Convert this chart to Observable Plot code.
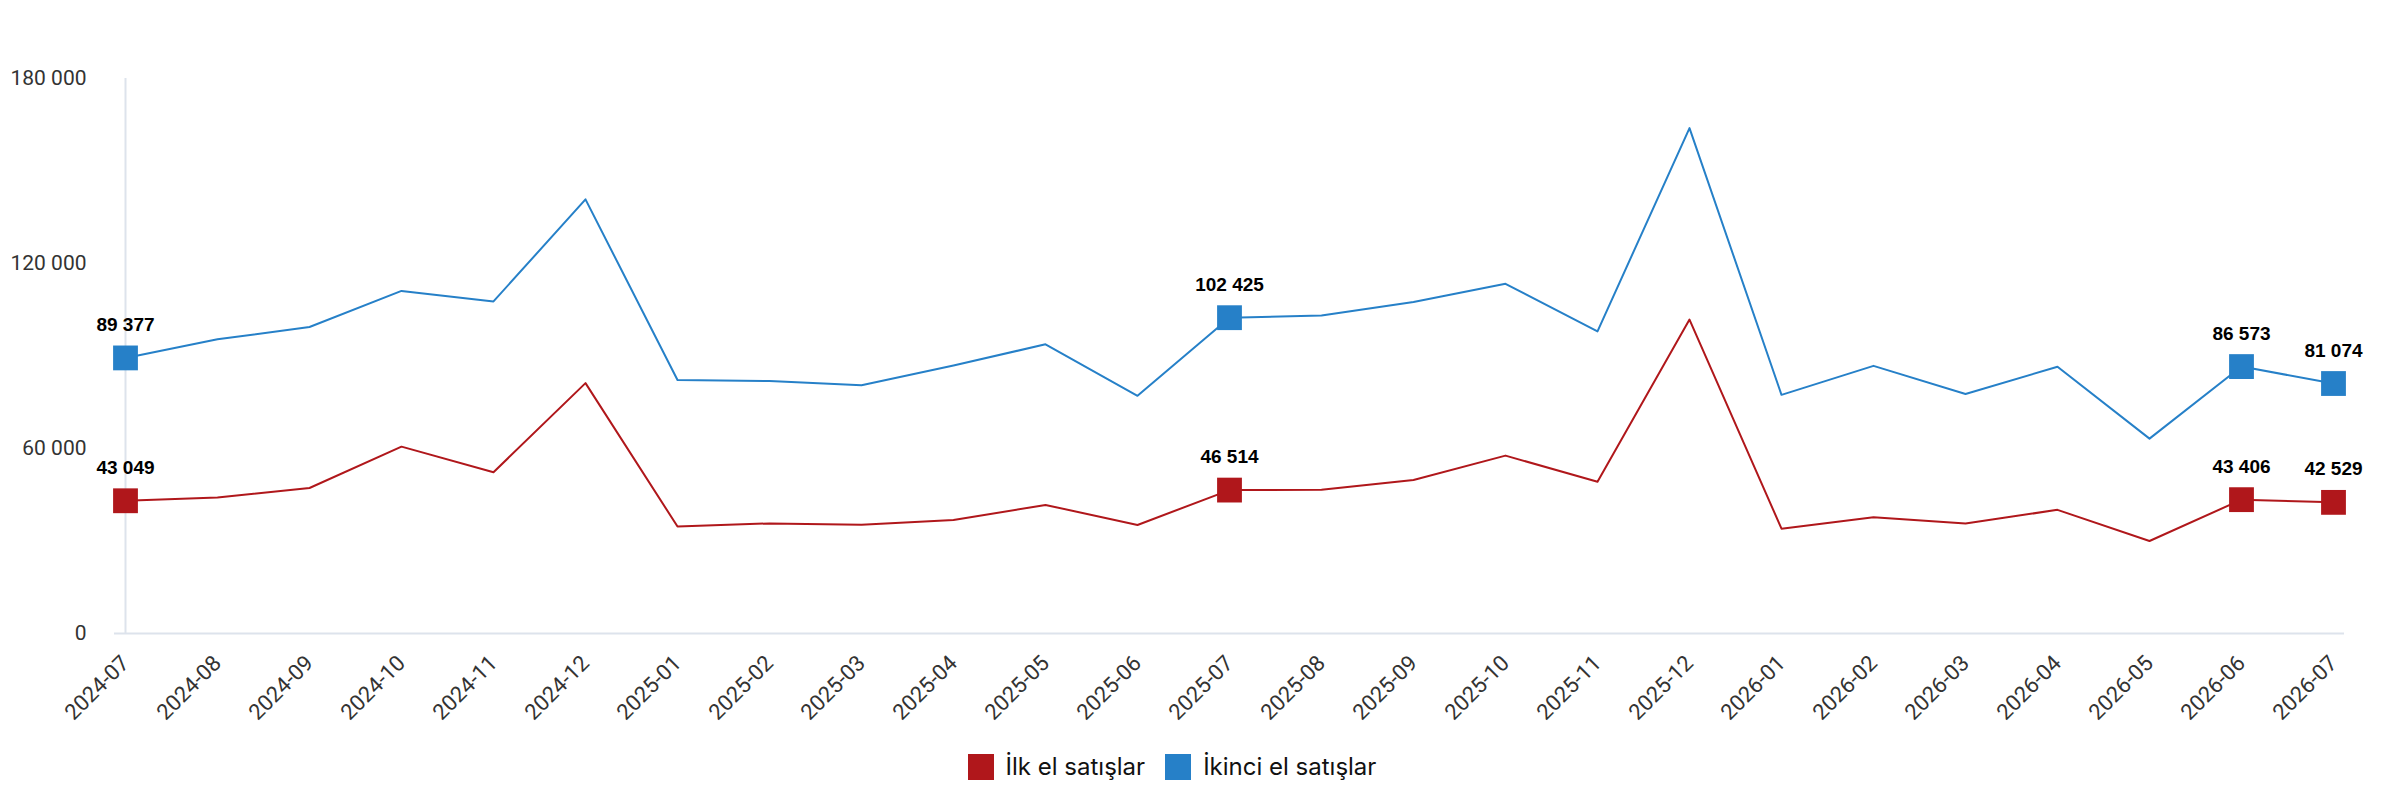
<!DOCTYPE html>
<html>
<head>
<meta charset="utf-8">
<script src="https://cdn.jsdelivr.net/npm/d3@7"></script>
<script src="https://cdn.jsdelivr.net/npm/@observablehq/plot@0.6"></script>
<style>
  html, body { margin: 0; padding: 0; background: #fff; }
  #legend { display: flex; justify-content: center; align-items: center; gap: 20px; font-family: Inter, "Noto Sans", sans-serif; font-size: 24px; color: #111; margin-top: 22px; padding-right: 40px; }
  .item { display: flex; align-items: center; gap: 12px; }
  .sw { width: 26px; height: 26px; display: inline-block; }
</style>
</head>
<body>
<div id="chart"></div>
<div id="legend"></div>
<script>
const months = ["2024-07","2024-08","2024-09","2024-10","2024-11","2024-12","2025-01","2025-02","2025-03","2025-04","2025-05","2025-06","2025-07","2025-08","2025-09","2025-10","2025-11","2025-12","2026-01","2026-02","2026-03","2026-04","2026-05","2026-06","2026-07"];
const ilkEl = [43049, 44100, 47200, 60600, 52300, 81200, 34700, 35700, 35300, 36800, 41700, 35200, 46514, 46600, 49800, 57700, 49200, 101800, 34000, 37700, 35700, 40100, 30000, 43406, 42529];
const ikinciEl = [89377, 95400, 99400, 111100, 107700, 140800, 82200, 81900, 80500, 86900, 93800, 77100, 102425, 103100, 107500, 113400, 98000, 163900, 77400, 86800, 77700, 86500, 63200, 86573, 81074];
const labeledIdx = [0, 12, 23, 24];
const yTicks = [0, 60000, 120000, 180000];
const seriesNames = ["İlk el satışlar", "İkinci el satışlar"];
const seriesColors = ["#b0171b", "#2680c8"];

const fmt = d3.formatLocale({decimal: ",", thousands: " ", grouping: [3], currency: ["", ""]}).format(",d");

const data = [];
months.forEach((m, i) => {
  data.push({month: m, value: ilkEl[i], series: seriesNames[0], i});
  data.push({month: m, value: ikinciEl[i], series: seriesNames[1], i});
});
const labeled = data.filter(d => labeledIdx.includes(d.i));

const H = 730;
const chart = Plot.plot({
  width: 2384,
  height: H,
  marginTop: 78,
  marginBottom: H - 633,
  marginLeft: 114,
  marginRight: 40,
  style: {fontFamily: "Roboto, sans-serif", background: "#fff"},
  x: {type: "point", domain: months, padding: 0, label: null},
  y: {domain: [0, 180000], label: null},
  color: {domain: seriesNames, range: seriesColors},
  marks: [
    Plot.ruleY([0], {stroke: "#dde3ec", strokeWidth: 2}),
    Plot.ruleX([months[0]], {y1: 0, y2: 180000, stroke: "#dde3ec", strokeWidth: 2}),
    Plot.axisY({ticks: yTicks, tickFormat: fmt, tickSize: 0, tickPadding: 28, fontSize: 21, fill: "#333", label: null}),
    Plot.axisX({tickRotate: -45, tickSize: 0, tickPadding: 26, fontSize: 22, fill: "#333", label: null}),
    Plot.line(data, {x: "month", y: "value", z: "series", stroke: "series", strokeWidth: 2}),
    Plot.dot(labeled, {x: "month", y: "value", fill: "series", symbol: "square", r: 14}),
    Plot.text(labeled, {x: "month", y: "value", text: d => fmt(d.value), dy: -33, fontSize: 19, fontWeight: "bold", fill: "#000", fontFamily: "'Liberation Sans', Arial, sans-serif"})
  ]
});
document.getElementById("chart").appendChild(chart);

const legend = document.getElementById("legend");
seriesNames.forEach((n, k) => {
  const it = document.createElement("div");
  it.className = "item";
  const sw = document.createElement("span");
  sw.className = "sw";
  sw.style.background = seriesColors[k];
  const t = document.createElement("span");
  t.textContent = n;
  it.appendChild(sw); it.appendChild(t);
  legend.appendChild(it);
});
</script>
</body>
</html>
